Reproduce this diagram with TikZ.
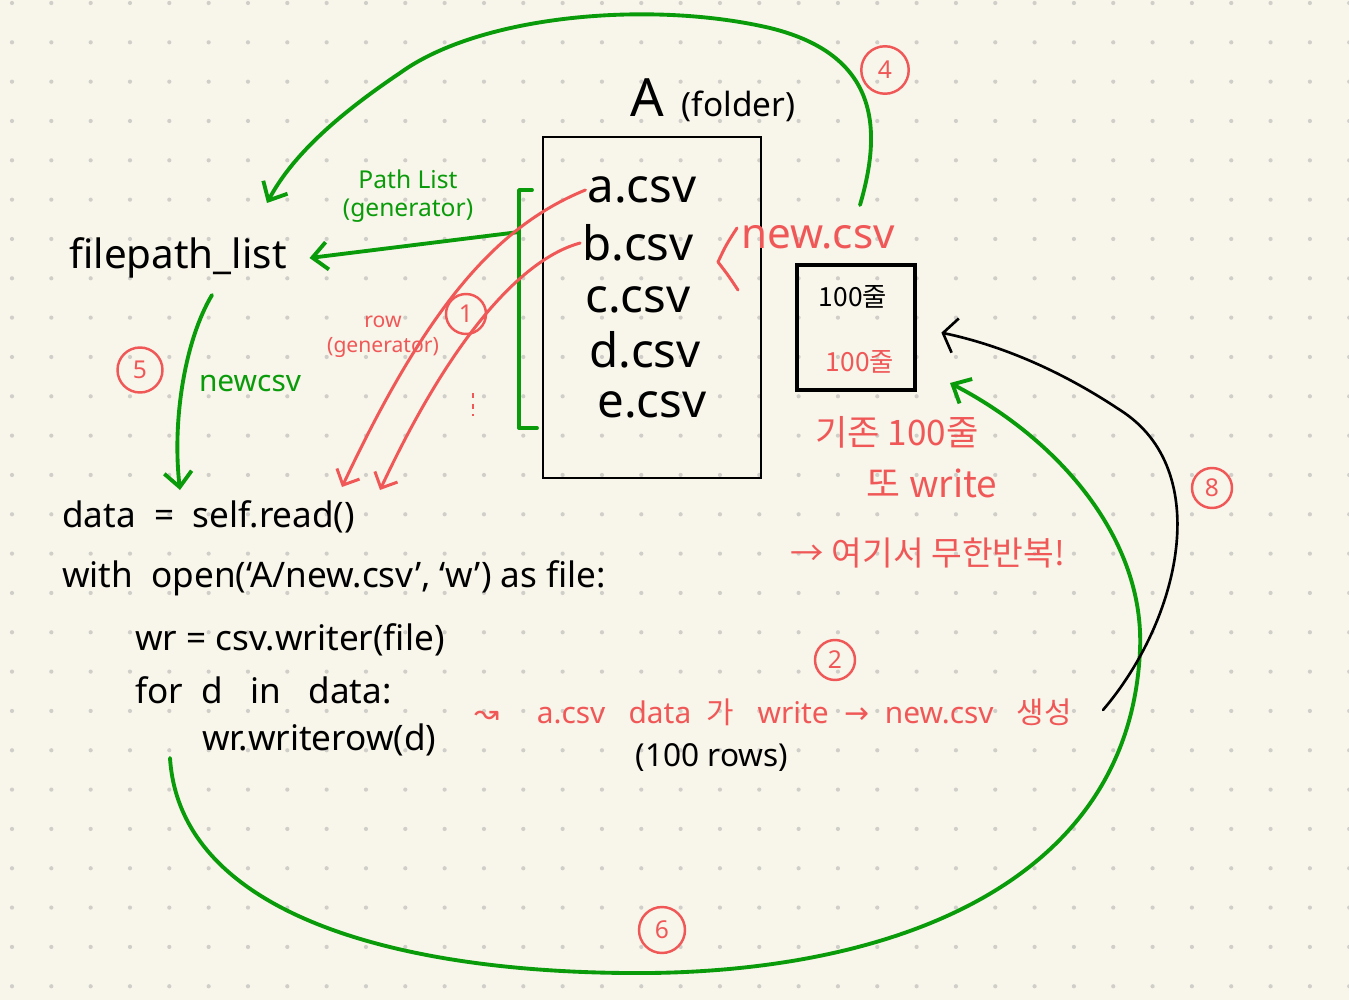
\documentclass[tikz,border=0pt]{standalone}
\usepackage{fontspec}
\setmainfont{Noto Sans}
\newfontfamily\kr{Noto Sans CJK KR}
\newfontfamily\symfont{DejaVu Sans}
\usetikzlibrary{arrows.meta}
\definecolor{paper}{RGB}{248,245,234}
\definecolor{dotgray}{RGB}{208,206,200}
\definecolor{penred}{RGB}{240,88,88}
\definecolor{pengreen}{RGB}{10,155,10}

\begin{document}
\begin{tikzpicture}[x=0.02cm, y=-0.02cm,
   every node/.style={inner sep=1pt},
   file/.style={font=\fontsize{27}{29}\selectfont},
   code/.style={anchor=west, font=\fontsize{20}{22}\selectfont},
   note/.style={text=penred, align=center},
   num/.style={draw=penred, line width=1.4pt, circle, text=penred,
               minimum size=0.8cm, inner sep=0pt, font=\fontsize{14}{14}\selectfont},
   greenpen/.style={draw=pengreen, line width=2.2pt, line cap=round, line join=round},
   redpen/.style={draw=penred, line width=1.7pt, line cap=round, line join=round},
   greenarrow/.style={greenpen, -{Straight Barb[length=3mm,width=5.5mm]}},
   redarrow/.style={redpen, -{Straight Barb[length=2.5mm,width=5mm]}},
   blackarrow/.style={draw=black, line width=1.5pt, line cap=round,
                      -{Straight Barb[length=2.5mm,width=7mm]}}]

% paper
\useasboundingbox (0,0) rectangle (1349,1000);
\fill[paper] (0,0) rectangle (1349,1000);
\foreach \i in {0,...,34}
  \foreach \j in {0,...,25}
    \fill[dotgray] (12+39.33*\i, 3+39.33*\j) circle (0.042cm);

% folder A
\node (title) at (713,100) {{\fontsize{30}{30}\selectfont A}\quad{\fontsize{19}{19}\selectfont (folder)}};
\node[draw, line width=1.1pt, minimum width=4.36cm, minimum height=6.82cm] (folder) at (652,307.5) {};
\node[file] (a) at (642,190) {a.csv};
\node[file] (b) at (638,243) {b.csv};
\node[file] (c) at (638,300) {c.csv};
\node[file] (d) at (645,350) {d.csv};
\node[file] (e) at (652,405) {e.csv};
\draw[greenpen] (532,190) -- (519,190) -- (519,428) -- (537,428);
\coordinate (pl) at (519,232);

% new.csv
\node[note, font=\fontsize{24}{26}\selectfont] (new) at (818,237) {new.csv};
\draw[redpen] (737,228) .. controls (726,245) .. (718,262) .. controls (728,275) .. (738,290);
\node[draw, line width=2.2pt, minimum width=2.36cm, minimum height=2.5cm] (box) at (856,327.5) {};
\node[font=\kr\fontsize{15}{15}\selectfont] (old) at (853,297) {100줄};
\node[note, font=\kr\fontsize{15}{15}\selectfont] (again) at (860,362) {100줄};
\node[note, font=\kr\fontsize{20}{20}\selectfont] (n1) at (897,432) {기존 100줄};
\node[note, font=\kr\fontsize{21}{21}\selectfont] (n2) at (932,483) {또 write};
\node[note, font=\kr\fontsize{19}{19}\selectfont] (n3) at (928,553) {→ 여기서 무한반복!};

% list side
\node[font=\fontsize{23}{25}\selectfont, inner xsep=0.45cm] (fp) at (178,258) {filepath\_list};
\node[text=pengreen, align=center, font=\fontsize{14}{16}\selectfont] (plist) at (408,196) {Path List\\(generator)};
\node[note, font=\fontsize{12}{14}\selectfont] (row) at (383,337) {row\\(generator)};
\node[text=pengreen, font=\fontsize{17}{17}\selectfont] (newcsv) at (250,383) {newcsv};

% code
\node[code] (data) at (60,517) {data \ = \ self.read()};
\node[code] (with) at (60,578) {with \ open(‘A/new.csv’, ‘w’) as file:};
\node[code] (wr) at (133,640) {wr = csv.writer(file)};
\node[code] (for) at (133,690) {for \ d \ \ in \ \ data:};
\node[code] (wrow) at (200,740) {wr.writerow(d)};
\node[note, anchor=west, font=\fontsize{17}{17}\selectfont] (step2) at (472,712)
  {{\symfont ↝}\quad\ a.csv \ \ data \ {\kr 가} \ \ write \ {\symfont →} \ new.csv \ \ {\kr 생성}};
\node[font=\fontsize{18}{18}\selectfont] (rows) at (712,758) {(100 rows)};

% circled numbers
\node[num] (c1) at (466,314) {1};
\node[num] (c2) at (835,660) {2};
\node[num, minimum size=0.95cm] (c4) at (885,70) {4};
\node[num, minimum size=0.9cm] (c5) at (140,370) {5};
\node[num, minimum size=0.92cm] (c6) at (662,930) {6};
\node[num] (c8) at (1212,488) {8};

% connectors
\coordinate (s4) at (860,205);
\coordinate (t4) at (267,203);
\coordinate (s5) at (212,295);
\coordinate (t5) at (180,490);
\coordinate (r1) at (342,487);
\coordinate (r2) at (380,490);
\coordinate (s6) at (170,758);
\coordinate (t6) at (950,383);
\coordinate (s8) at (1103,710);

\draw[greenarrow] (pl) -- (fp.east);
\draw[greenarrow] (s4) .. controls (882,130) and (880,55) .. (770,28)
   .. controls (650,0) and (480,15) .. (400,73)
   .. controls (330,120) and (290,160) .. (t4);
\draw[greenarrow] (s5) .. controls (185,340) and (172,420) .. (t5);
\draw[redarrow] (a.west) .. controls (500,225) and (430,300) .. (r1);
\draw[redarrow] (b.west) .. controls (525,258) and (455,330) .. (r2);
\draw[penred, line width=1pt, dash pattern=on 3pt off 3pt] (473,393) -- (473,416);
\draw[greenarrow] (s6) .. controls (180,915) and (400,975) .. (650,973)
   .. controls (900,970) and (1130,880) .. (1140,650)
   .. controls (1145,540) and (1060,440) .. (t6);
\draw[blackarrow, shorten >=0.5cm] (s8) .. controls (1180,620) and (1215,470) .. (1120,410)
   .. controls (1060,370) and (1000,345) .. (box.east);

\end{tikzpicture}
\end{document}
